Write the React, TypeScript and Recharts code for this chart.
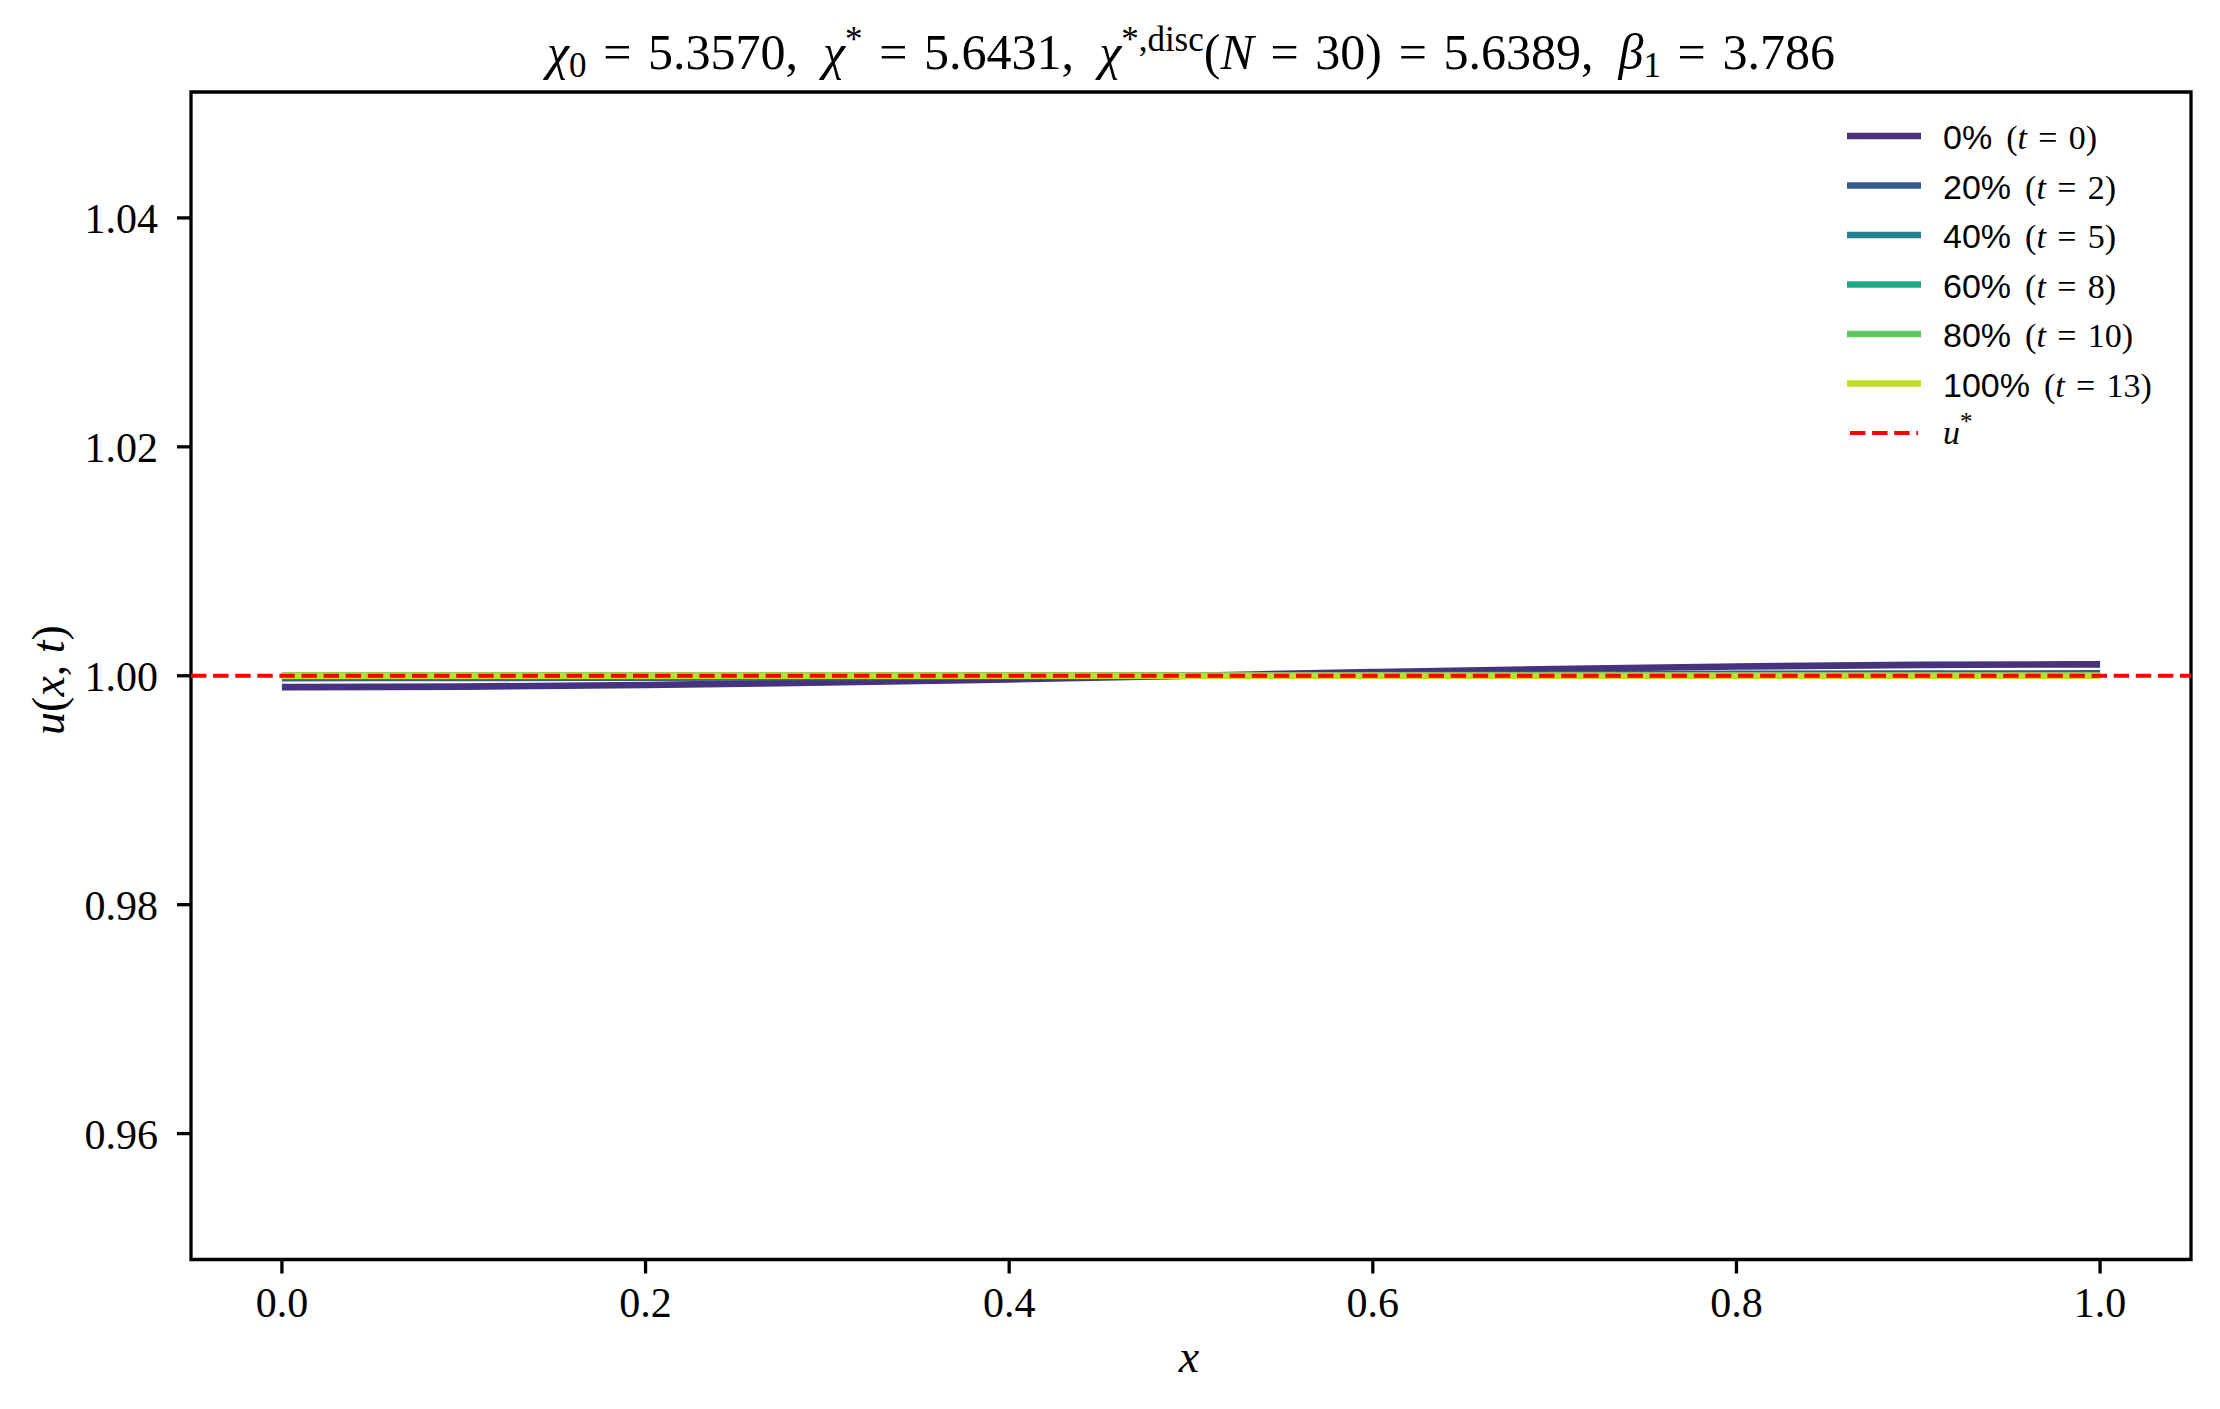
import {LineChart, Line, XAxis, YAxis, ReferenceArea} from 'recharts';

const W = 2220;
const H = 1409;

// grid positions along x
const xs = [0, 0.1, 0.2, 0.3, 0.4, 0.5, 0.6, 0.7, 0.8, 0.9, 1.0];

// profiles u(x, t)
const u0 = [0.999, 0.99905, 0.99919, 0.99941, 0.99969, 1.0, 1.00031, 1.00059, 1.00081, 1.00095, 1.001];
const u20 = [0.9998, 0.99981, 0.99984, 0.99988, 0.99994, 1.0, 1.00006, 1.00012, 1.00016, 1.00019, 1.0002];
const u40 = [0.99996, 0.99996, 0.99997, 0.99998, 0.99999, 1.0, 1.00001, 1.00002, 1.00003, 1.00004, 1.00004];
const u60 = [0.99999, 0.99999, 0.99999, 1.0, 1.0, 1.0, 1.0, 1.0, 1.00001, 1.00001, 1.00001];
const u80 = [1.0, 1.0, 1.0, 1.0, 1.0, 1.0, 1.0, 1.0, 1.0, 1.0, 1.0];
const u100 = [1.0, 1.0, 1.0, 1.0, 1.0, 1.0, 1.0, 1.0, 1.0, 1.0, 1.0];

const uStar = 1.0;
const xRange = [-0.05, 1.05];
const yRange = [0.949, 1.051];

const xTicks = [0, 0.2, 0.4, 0.6, 0.8, 1.0];
const yTicks = [0.96, 0.98, 1.0, 1.02, 1.04];

const pctLabels = ['0%', '20%', '40%', '60%', '80%', '100%'];
const tLabels = ['0', '2', '5', '8', '10', '13'];
const colors = ['#46327e', '#365c8d', '#277f8e', '#22a884', '#5ec962', '#bddf26'];
const profiles = [u0, u20, u40, u60, u80, u100];

const SERIF = '"Liberation Serif", "DejaVu Serif", serif';
const SANS = '"Liberation Sans", "DejaVu Sans", sans-serif';

const PLOT = {left: 191, right: 2191, top: 92, bottom: 1259.5};

function toPoints(values: number[]) {
    return xs.map((x, i) => ({x, u: values[i]}));
}

const starLine = [
    {x: xRange[0], u: uStar},
    {x: xRange[1], u: uStar},
];

const EQ = '\u2004=\u2004';

function Overlay() {
    const legendX = 1847;
    const legendY = 136;
    const rowGap = 49.5;
    return (
        <svg
            width={W}
            height={H}
            style={{position: 'absolute', left: 0, top: 0, pointerEvents: 'none'}}
        >
            <text
                x={(PLOT.left + PLOT.right) / 2}
                y={69}
                textAnchor="middle"
                fontFamily={SERIF}
                fontSize={50}
                style={{whiteSpace: 'pre'}}
            >
                <tspan fontStyle="italic">χ</tspan>
                <tspan fontSize={35} dy={8}>0</tspan>
                <tspan dy={-8}>{`${EQ}5.3570,  `}</tspan>
                <tspan fontStyle="italic">χ</tspan>
                <tspan fontSize={35} dy={-18}>*</tspan>
                <tspan dy={18}>{`${EQ}5.6431,  `}</tspan>
                <tspan fontStyle="italic">χ</tspan>
                <tspan fontSize={35} dy={-18}>*,disc</tspan>
                <tspan dy={18}>(</tspan>
                <tspan fontStyle="italic">N</tspan>
                <tspan>{`${EQ}30)${EQ}5.6389,  `}</tspan>
                <tspan fontStyle="italic">β</tspan>
                <tspan fontSize={35} dy={8}>1</tspan>
                <tspan dy={-8}>{`${EQ}3.786`}</tspan>
            </text>

            <text
                x={1189}
                y={1372}
                textAnchor="middle"
                fontFamily={SERIF}
                fontSize={46}
                fontStyle="italic"
            >
                x
            </text>

            <text
                transform="translate(64, 680) rotate(-90)"
                textAnchor="middle"
                fontFamily={SERIF}
                fontSize={46}
                style={{whiteSpace: 'pre'}}
            >
                <tspan fontStyle="italic">u</tspan>
                <tspan>(</tspan>
                <tspan fontStyle="italic">x</tspan>
                <tspan>{', '}</tspan>
                <tspan fontStyle="italic">t</tspan>
                <tspan>)</tspan>
            </text>

            {pctLabels.map((p, i) => {
                const y = legendY + rowGap * i;
                return (
                    <g key={p}>
                        <line x1={legendX} x2={legendX + 74} y1={y} y2={y} stroke={colors[i]} strokeWidth={6.7}/>
                        <text x={legendX + 96} y={y + 13} fontSize={34} style={{whiteSpace: 'pre'}}>
                            <tspan fontFamily={SANS}>{p}</tspan>
                            <tspan fontFamily={SERIF} dx={14}>(</tspan>
                            <tspan fontFamily={SERIF} fontStyle="italic">t</tspan>
                            <tspan fontFamily={SERIF}>{`${EQ}${tLabels[i]})`}</tspan>
                        </text>
                    </g>
                );
            })}
            <line
                x1={legendX + 3}
                x2={legendX + 71}
                y1={legendY + rowGap * 6}
                y2={legendY + rowGap * 6}
                stroke="#ff0000"
                strokeWidth={4.2}
                strokeDasharray="15.4 6.7"
            />
            <text x={legendX + 96} y={legendY + rowGap * 6 + 11} fontSize={34} fontFamily={SERIF}>
                <tspan fontStyle="italic">u</tspan>
                <tspan fontSize={25} dy={-14}>*</tspan>
            </text>
        </svg>
    );
}

export default function App() {
    return (
        <div style={{position: 'absolute', left: 0, top: 0, width: W, height: H, background: '#fff'}}>
            <LineChart
                width={W}
                height={H}
                margin={{top: PLOT.top, right: W - PLOT.right, left: 0, bottom: 0}}
            >
                <XAxis
                    dataKey="x"
                    type="number"
                    domain={xRange}
                    ticks={xTicks}
                    allowDataOverflow
                    height={H - PLOT.bottom}
                    axisLine={false}
                    tickSize={14}
                    tickMargin={14}
                    tickLine={{stroke: '#000', strokeWidth: 3.3}}
                    tick={{fill: '#000', fontSize: 42, fontFamily: SERIF}}
                    tickFormatter={(v: number) => v.toFixed(1)}
                />
                <YAxis
                    type="number"
                    domain={yRange}
                    ticks={yTicks}
                    allowDataOverflow
                    width={PLOT.left}
                    axisLine={false}
                    tickSize={14}
                    tickMargin={19}
                    tickLine={{stroke: '#000', strokeWidth: 3.3}}
                    tick={{fill: '#000', fontSize: 42, fontFamily: SERIF}}
                    tickFormatter={(v: number) => v.toFixed(2)}
                />
                {profiles.map((vals, i) => (
                    <Line
                        key={pctLabels[i]}
                        data={toPoints(vals)}
                        dataKey="u"
                        type="monotone"
                        stroke={colors[i]}
                        strokeWidth={6.7}
                        dot={false}
                        activeDot={false}
                        isAnimationActive={false}
                    />
                ))}
                <Line
                    data={starLine}
                    dataKey="u"
                    stroke="#ff0000"
                    strokeWidth={4.2}
                    strokeDasharray="15.4 6.7"
                    dot={false}
                    activeDot={false}
                    isAnimationActive={false}
                />
                <ReferenceArea
                    x1={xRange[0]}
                    x2={xRange[1]}
                    y1={yRange[0]}
                    y2={yRange[1]}
                    fill="none"
                    fillOpacity={0}
                    stroke="#000"
                    strokeWidth={3.3}
                    ifOverflow="visible"
                />
            </LineChart>
            <Overlay/>
        </div>
    );
}
